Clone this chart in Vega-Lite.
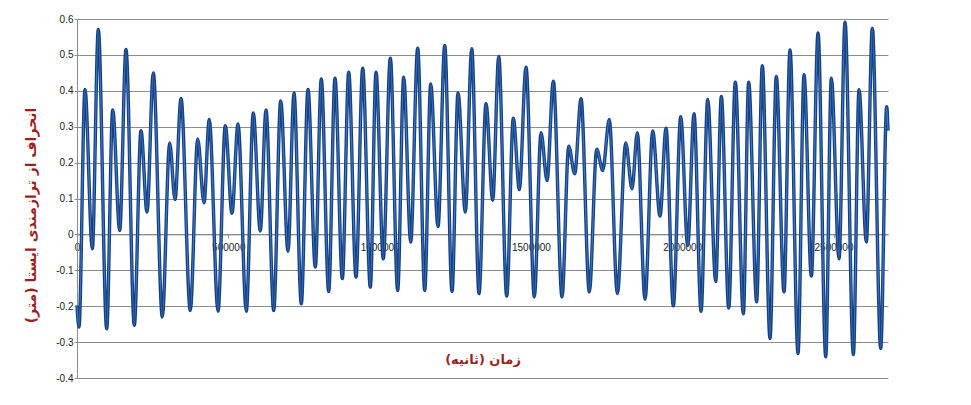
{
  "$schema": "https://vega.github.io/schema/vega-lite/v6.json",
  "width": 811,
  "height": 359,
  "autosize": {"type": "none"},
  "padding": {"left": 77, "top": 19, "right": 83, "bottom": 27},
  "background": "white",
  "config": {"view": {"stroke": null}},
  "data": {"values": [
    {"t": 0, "h": -0.198}, {"t": 6600, "h": -0.258}, {"t": 26400, "h": 0.404}, {"t": 50600, "h": -0.04},
    {"t": 70400, "h": 0.571}, {"t": 98100, "h": -0.263}, {"t": 118000, "h": 0.347}, {"t": 141100, "h": 0.011},
    {"t": 161900, "h": 0.515}, {"t": 189400, "h": -0.253}, {"t": 211500, "h": 0.289}, {"t": 231300, "h": 0.062},
    {"t": 252200, "h": 0.45}, {"t": 281900, "h": -0.23}, {"t": 306300, "h": 0.255}, {"t": 323900, "h": 0.097},
    {"t": 343700, "h": 0.379}, {"t": 374400, "h": -0.212}, {"t": 398900, "h": 0.266}, {"t": 419700, "h": 0.088},
    {"t": 437000, "h": 0.32}, {"t": 466000, "h": -0.214}, {"t": 490100, "h": 0.303}, {"t": 512200, "h": 0.059},
    {"t": 532100, "h": 0.308}, {"t": 559500, "h": -0.214}, {"t": 582600, "h": 0.338}, {"t": 605700, "h": 0.009},
    {"t": 624600, "h": 0.347}, {"t": 650000, "h": -0.212}, {"t": 673200, "h": 0.372}, {"t": 697300, "h": -0.047},
    {"t": 717100, "h": 0.394}, {"t": 741200, "h": -0.193}, {"t": 763400, "h": 0.404}, {"t": 787500, "h": -0.091},
    {"t": 807300, "h": 0.433}, {"t": 831700, "h": -0.159}, {"t": 852600, "h": 0.435}, {"t": 876800, "h": -0.123},
    {"t": 897900, "h": 0.452}, {"t": 922000, "h": -0.119}, {"t": 944100, "h": 0.463}, {"t": 969300, "h": -0.147},
    {"t": 988100, "h": 0.452}, {"t": 1012200, "h": -0.068}, {"t": 1035400, "h": 0.491}, {"t": 1059700, "h": -0.156},
    {"t": 1079600, "h": 0.438}, {"t": 1102700, "h": -0.021}, {"t": 1125900, "h": 0.519}, {"t": 1149000, "h": -0.156},
    {"t": 1168900, "h": 0.419}, {"t": 1193000, "h": 0.022}, {"t": 1215200, "h": 0.526}, {"t": 1239300, "h": -0.159},
    {"t": 1259100, "h": 0.394}, {"t": 1283300, "h": 0.062}, {"t": 1304400, "h": 0.517}, {"t": 1328500, "h": -0.165},
    {"t": 1351600, "h": 0.364}, {"t": 1373800, "h": 0.095}, {"t": 1393600, "h": 0.496}, {"t": 1420000, "h": -0.172},
    {"t": 1441900, "h": 0.324}, {"t": 1461700, "h": 0.125}, {"t": 1483800, "h": 0.466}, {"t": 1511300, "h": -0.174},
    {"t": 1533400, "h": 0.283}, {"t": 1553300, "h": 0.15}, {"t": 1574100, "h": 0.427}, {"t": 1602800, "h": -0.174},
    {"t": 1624900, "h": 0.246}, {"t": 1644700, "h": 0.169}, {"t": 1665600, "h": 0.378}, {"t": 1693000, "h": -0.16},
    {"t": 1717500, "h": 0.237}, {"t": 1737300, "h": 0.178}, {"t": 1759000, "h": 0.32}, {"t": 1785600, "h": -0.165},
    {"t": 1813300, "h": 0.255}, {"t": 1834100, "h": 0.127}, {"t": 1851600, "h": 0.283}, {"t": 1877100, "h": -0.181},
    {"t": 1902500, "h": 0.288}, {"t": 1926600, "h": 0.051}, {"t": 1946500, "h": 0.296}, {"t": 1970600, "h": -0.199},
    {"t": 1995000, "h": 0.328}, {"t": 2018200, "h": -0.031}, {"t": 2039000, "h": 0.336}, {"t": 2062200, "h": -0.214},
    {"t": 2084300, "h": 0.376}, {"t": 2110700, "h": -0.131}, {"t": 2129200, "h": 0.384}, {"t": 2153700, "h": -0.205},
    {"t": 2175500, "h": 0.424}, {"t": 2202000, "h": -0.221}, {"t": 2219600, "h": 0.424}, {"t": 2246000, "h": -0.188},
    {"t": 2264600, "h": 0.47}, {"t": 2290100, "h": -0.29}, {"t": 2310900, "h": 0.44}, {"t": 2336400, "h": -0.16},
    {"t": 2356200, "h": 0.514}, {"t": 2382700, "h": -0.332}, {"t": 2402500, "h": 0.445}, {"t": 2426700, "h": -0.116},
    {"t": 2448800, "h": 0.561}, {"t": 2474200, "h": -0.341}, {"t": 2492800, "h": 0.435}, {"t": 2518200, "h": -0.068},
    {"t": 2538000, "h": 0.591}, {"t": 2565500, "h": -0.335}, {"t": 2584300, "h": 0.403}, {"t": 2608400, "h": -0.021},
    {"t": 2628200, "h": 0.574}, {"t": 2655900, "h": -0.318}, {"t": 2675700, "h": 0.356}, {"t": 2680000, "h": 0.289}
  ]},
  "encoding": {
    "x": {
      "field": "t", "type": "quantitative",
      "scale": {"domain": [0, 2680000], "nice": false, "zero": false},
      "axis": {
        "title": "زمان (ثانیه)",
        "values": [0, 500000, 1000000, 1500000, 2000000, 2500000],
        "format": "d",
        "grid": false,
        "offset": -143.6,
        "domainColor": "#8c8c8c",
        "tickColor": "#8c8c8c",
        "tickSize": 3,
        "labelFlush": false,
        "labelOverlap": false,
        "labelFont": "Liberation Sans",
        "labelFontSize": 10,
        "labelColor": "#222222",
        "labelPadding": 5,
        "titleFont": "DejaVu Sans",
        "titleFontSize": 13,
        "titleFontWeight": "bold",
        "titleColor": "#9c1f1f",
        "titleBaseline": "middle",
        "titleY": 125
      }
    },
    "y": {
      "field": "h", "type": "quantitative",
      "scale": {"domain": [-0.4, 0.6], "nice": false, "zero": false},
      "axis": {
        "title": "انحراف از ترازمندی ایستا (متر)",
        "values": [-0.4, -0.3, -0.2, -0.1, 0, 0.1, 0.2, 0.3, 0.4, 0.5, 0.6],
        "format": ".1~f",
        "labelExpr": "replace(datum.label, '−', '-')",
        "grid": true,
        "gridColor": "#8c8c8c",
        "gridWidth": 1,
        "domainColor": "#8c8c8c",
        "tickColor": "#8c8c8c",
        "tickSize": 3,
        "labelPadding": 1,
        "labelFont": "Liberation Sans",
        "labelFontSize": 10,
        "labelColor": "#222222",
        "titleFont": "DejaVu Sans",
        "titleFontSize": 14,
        "titleFontWeight": "bold",
        "titleColor": "#9c1f1f",
        "titleBaseline": "middle",
        "titleX": -46,
        "titleY": 196
      }
    }
  },
  "layer": [
    {"mark": {"type": "line", "interpolate": "monotone", "stroke": "#173f80", "strokeWidth": 3.4}},
    {"mark": {"type": "line", "interpolate": "monotone", "stroke": "#3c7cc8", "strokeWidth": 1.1}}
  ]
}
